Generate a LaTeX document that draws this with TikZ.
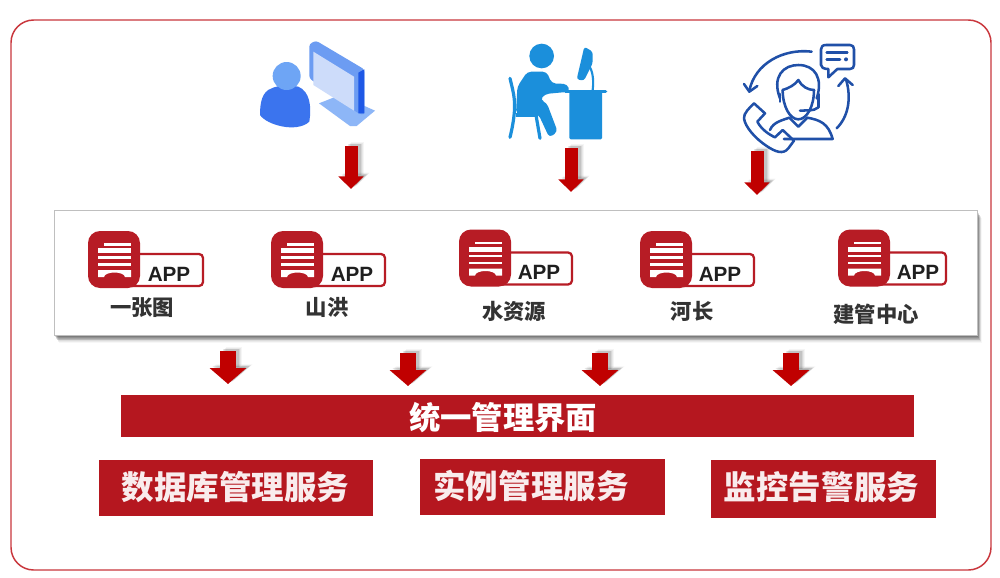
\documentclass[tikz,border=0pt]{standalone}
\usepackage{fontspec}
\setmainfont{Liberation Sans}
\newfontfamily\cjk{Noto Sans CJK SC}
\usetikzlibrary{arrows.meta}
\definecolor{frameRed}{HTML}{C9363C}
\definecolor{appRed}{HTML}{B71C25}
\definecolor{barRed}{HTML}{B5171F}
\definecolor{arrowRed}{HTML}{C00000}
\definecolor{iconA}{HTML}{3B74EE}
\definecolor{iconAhead}{HTML}{6EA5F5}
\definecolor{iconAbase}{HTML}{8DB6F7}
\definecolor{iconAframe}{HTML}{6C9CF2}
\definecolor{iconAside}{HTML}{1E58E6}
\definecolor{iconAscreen}{HTML}{CDDCFA}
\definecolor{iconB}{HTML}{1B8FDB}
\definecolor{iconC}{HTML}{2050A8}
\tikzset{
  blockshaft/.style={line width=9.75pt,-{Triangle[length=9.5pt,width=18.5pt]}},
  lowshaft/.style={line width=12.5pt,-{Triangle[length=12pt,width=27pt]}},
  applabel/.style={font=\cjk\bfseries\fontsize{16}{16}\selectfont,text=black!80,inner sep=0pt},
  barlabel/.style={font=\cjk\bfseries\fontsize{23.5}{24}\selectfont,text=white,inner sep=0pt},
  svclabel/.style={font=\cjk\bfseries\fontsize{24.4}{25}\selectfont,text=white!92!barRed,inner sep=0pt},
  barbox/.style={fill=barRed,draw=none,inner sep=0pt,anchor=north west},
  iconline/.style={draw=iconC,line width=1.9pt,line cap=round,line join=round,fill=none},
}
% #1 style, #2 start, #3 end
\newcommand{\shadowarrow}[3]{%
  \foreach \dd/\op in {6/.04,5/.05,4/.07,3/.09}{
    \draw[#1,black,opacity=\op,transform canvas={shift={(\dd*.75pt,\dd*.45pt)}}] (#2) -- (#3);
  }
  \draw[#1,arrowRed] (#2) -- (#3);
}
% #1 name, #2 tile left x, #3 tile top y, #4 label box right end, #5 text centre
\newcommand{\apptile}[5]{%
  \begin{scope}[shift={(#2,#3)}]
    \draw[appRed,line width=1.7pt,fill=white,rounded corners=3pt] (40,23) -- (#4,23) -- (#4,55) -- (40,55) -- cycle;
    \fill[appRed,rounded corners=9pt] (0,0) rectangle (52,57);
    \fill[white] (16,12) -- (43,12) -- (43,14.5) -- (16,14.5) -- cycle;
    \fill[white] (10,17) rectangle (43,22);
    \fill[white] (10,25) rectangle (43,27.5);
    \fill[white] (10,32) rectangle (43,34.5);
    \fill[white] (10,39) -- (43,39) -- (43,46) -- (37,46) .. controls (36,40) and (17,40) .. (16,46) -- (10,46) -- cycle;
    \node[inner sep=0pt,font=\bfseries\fontsize{15.5}{16}\selectfont,text=black!88] (#1) at (#5,43) {APP};
  \end{scope}
}
\begin{document}
\begin{tikzpicture}[x=.75pt,y=-.75pt]
\useasboundingbox (0,0) rectangle (1000,578);
\fill[white] (0,0) rectangle (1000,578);
\draw[frameRed,line width=1.1pt,rounded corners=17pt] (11,20) rectangle (991,570);

% icon 1
\begin{scope}[shift={(230,20)},x=.25pt,y=-.25pt]
  \fill[iconA] (125,205) .. controls (95,215) and (90,250) .. (90,285)
    .. controls (110,315) and (200,340) .. (238,305)
    .. controls (245,260) and (240,215) .. (205,200)
    .. controls (180,195) and (145,195) .. (125,205) -- cycle;
  \fill[iconAhead] (170,168) circle (42);
  \fill[iconAbase] (267,250) -- (330,225) -- (435,272) -- (380,318) -- (360,318) -- cycle;
  \fill[iconAframe,rounded corners=2pt] (238,72) -- (258,62) -- (403,148) -- (403,285) -- (385,280) -- (238,175) -- cycle;
  \fill[iconAside] (385,158) -- (403,148) -- (403,280) -- (385,280) -- cycle;
  \fill[iconAscreen] (250,95) -- (372,170) -- (372,272) -- (250,195) -- cycle;
\end{scope}

% icon 2
\begin{scope}[shift={(490,20)},x=.25pt,y=-.25pt]
  \fill[iconB] (155,108) circle (37);
  \fill[iconB,rounded corners=3pt] (112,155) -- (170,155) -- (185,190) -- (232,192) -- (240,215) -- (165,222) -- (150,240) -- (170,248) -- (203,335) -- (178,353) -- (145,282) -- (78,282) -- (82,200) -- cycle;
  \fill[iconB,rounded corners=1pt] (238,215) rectangle (336,358);
  \draw[iconB,line width=2.4pt,line cap=round] (226,215) -- (347,215);
  \fill[iconB,rounded corners=2pt] (260,178) -- (283,80) -- (308,95) -- (308,130) -- (282,182) -- cycle;
  \draw[iconB,line width=1.6pt] (295,135) .. controls (308,150) and (312,180) .. (308,210);
  \draw[iconB,line width=2.4pt,line cap=round] (60,175) .. controls (70,220) and (85,250) .. (60,352);
  \draw[iconB,line width=2.4pt,line cap=round] (138,285) -- (150,355);
  \draw[iconB,line width=2.4pt] (78,285) -- (145,285);
\end{scope}

% icon 3
\begin{scope}[shift={(720,20)},x=.25pt,y=-.25pt]
  % speech bubble
  \draw[iconline] (318,75) -- (390,75) .. controls (398,75) and (402,80) .. (402,88) -- (402,135) .. controls (402,142) and (398,147) .. (390,147) -- (352,147) -- (325,172) -- (325,147) .. controls (310,147) and (303,142) .. (303,135) -- (303,88) .. controls (303,80) and (308,75) .. (318,75) -- cycle;
  \draw[iconline] (320,97) -- (382,97) (320,118) -- (360,118);
  \fill[iconC] (378,118) circle (6);
  % arcs
  \draw[iconline] (275,95) .. controls (190,85) and (105,130) .. (88,212);
  \draw[iconline] (72,192) -- (88,215) -- (112,198);
  \draw[iconline] (350,325) .. controls (385,290) and (395,235) .. (378,178);
  \draw[iconline] (355,198) -- (375,175) -- (398,195);
  % head
  \draw[iconline] (180,235) .. controls (155,170) and (190,135) .. (235,135) .. controls (285,135) and (310,175) .. (290,235);
  \draw[iconline] (188,210) .. controls (205,205) and (225,195) .. (235,180) .. controls (245,200) and (265,210) .. (282,210);
  \draw[iconline] (188,210) .. controls (188,260) and (210,298) .. (235,298) .. controls (260,298) and (282,260) .. (282,210);
  \draw[iconline] (180,222) -- (180,245) (295,222) -- (295,262);
  \draw[iconline] (295,262) .. controls (280,275) and (260,270) .. (240,272);
  % shoulders
  \draw[iconline] (150,330) .. controls (160,305) and (190,300) .. (208,293) -- (235,320) -- (262,293) .. controls (300,300) and (325,310) .. (338,357) -- (192,357);
  % phone
  \draw[iconline] (102,250) -- (135,280) -- (112,305) .. controls (125,330) and (150,345) .. (165,352) -- (188,330) -- (222,362) -- (205,385) .. controls (190,405) and (165,395) .. (140,378) .. controls (105,355) and (75,320) .. (72,295) .. controls (70,280) and (90,262) .. (102,250) -- cycle;
\end{scope}

% top arrows
\coordinate (a1s) at (351,146); \coordinate (a1e) at (351,189);
\coordinate (a2s) at (571,148); \coordinate (a2e) at (571,192);
\coordinate (a3s) at (757,151); \coordinate (a3e) at (757,195);
\shadowarrow{blockshaft}{a1s}{a1e}
\shadowarrow{blockshaft}{a2s}{a2e}
\shadowarrow{blockshaft}{a3s}{a3e}

% panel
\foreach \dd/\op in {9/.03,8/.05,7/.06,6/.08,5/.09,4/.1,3/.12,2/.14}{
  \fill[black,opacity=\op] (54+\dd*.5,210+\dd*.9) rectangle (977+\dd*.5,335+\dd*.9);
}
\node[draw=black!25,fill=white,line width=1pt,minimum width=692pt,minimum height=93.75pt,inner sep=0pt,anchor=north west] (panel) at (54,210) {};

\apptile{app1}{88}{231}{115}{81}
\apptile{app2}{271}{231}{114}{81}
\apptile{app3}{459}{229.5}{113}{80}
\apptile{app4}{640}{231}{114}{80}
\apptile{app5}{838}{229.5}{108}{80}
\node[applabel] (l1) at (142,308) {一张图};
\node[applabel] (l2) at (327,307) {山洪};
\node[applabel] (l3) at (514,311) {水资源};
\node[applabel] (l4) at (692,311) {河长};
\node[applabel] (l5) at (876,314) {建管中心};

% lower arrows
\coordinate (b1s) at (228,351); \coordinate (b1e) at (228,384);
\coordinate (b2s) at (408,353); \coordinate (b2e) at (408,386);
\coordinate (b3s) at (600,353); \coordinate (b3e) at (600,386);
\coordinate (b4s) at (791,353); \coordinate (b4e) at (791,386);
\shadowarrow{lowshaft}{b1s}{b1e}
\shadowarrow{lowshaft}{b2s}{b2e}
\shadowarrow{lowshaft}{b3s}{b3e}
\shadowarrow{lowshaft}{b4s}{b4e}

% bars
\node[barbox,minimum width=594.75pt,minimum height=31.5pt] (bar) at (121,395) {};
\node[barlabel] (bart) at (503,418) {统一管理界面};
\node[barbox,minimum width=205.5pt,minimum height=42pt] (s1) at (99,460) {};
\node[barbox,minimum width=183.75pt,minimum height=42pt] (s2) at (420,459) {};
\node[barbox,minimum width=168.75pt,minimum height=43.5pt] (s3) at (711,460) {};
\node[svclabel] (s1t) at (235.5,487) {数据库管理服务};
\node[svclabel] (s2t) at (531,486) {实例管理服务};
\node[svclabel] (s3t) at (821.5,487) {监控告警服务};
\end{tikzpicture}
\end{document}
